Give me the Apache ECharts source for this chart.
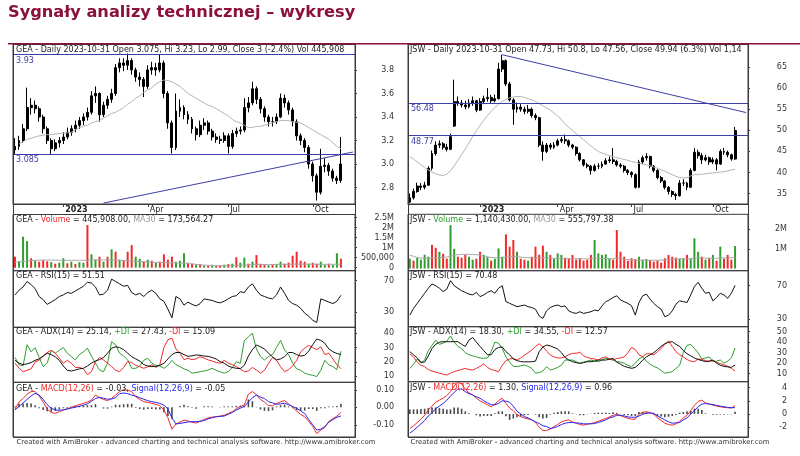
<!DOCTYPE html>
<html><head><meta charset="utf-8">
<script src="https://cdn.jsdelivr.net/npm/echarts@6/dist/echarts.min.js"></script>
<style>html,body{margin:0;padding:0;background:#fff}#c{width:800px;height:456px}</style>
</head><body><div id="c"></div>
<script>
// ---------- GEA (left) : one point per ~3 sessions, [open, close, low, high] ----------
const geaCandles = [
[3.12,3.15,3.08,3.22],[3.15,3.20,3.12,3.24],[3.20,3.30,3.18,3.34],[3.30,3.48,3.28,3.65],[3.48,3.50,3.42,3.56],
[3.50,3.47,3.43,3.54],[3.47,3.40,3.36,3.49],[3.40,3.30,3.26,3.42],[3.30,3.20,3.17,3.32],[3.20,3.13,3.08,3.22],
[3.13,3.18,3.11,3.21],[3.18,3.20,3.14,3.23],[3.20,3.23,3.17,3.27],[3.23,3.27,3.21,3.31],[3.27,3.30,3.24,3.33],
[3.30,3.33,3.27,3.37],[3.33,3.37,3.30,3.40],[3.37,3.40,3.33,3.43],[3.40,3.44,3.37,3.48],[3.44,3.58,3.42,3.62],
[3.58,3.60,3.52,3.66],[3.60,3.42,3.36,3.61],[3.42,3.50,3.40,3.53],[3.50,3.55,3.47,3.58],[3.55,3.60,3.52,3.64],
[3.60,3.82,3.58,3.85],[3.82,3.86,3.78,3.90],[3.86,3.84,3.79,3.90],[3.84,3.88,3.80,3.94],[3.88,3.80,3.76,3.90],
[3.80,3.74,3.70,3.82],[3.74,3.72,3.66,3.78],[3.72,3.66,3.57,3.74],[3.66,3.80,3.64,3.84],[3.80,3.82,3.76,3.87],
[3.82,3.80,3.75,3.86],[3.80,3.86,3.78,3.93],[3.86,3.60,3.56,3.88],[3.60,3.35,3.30,3.62],[3.35,3.14,3.09,3.37],
[3.14,3.45,3.12,3.60],[3.45,3.48,3.40,3.55],[3.48,3.42,3.38,3.50],[3.42,3.38,3.34,3.45],[3.38,3.30,3.26,3.40],
[3.30,3.25,3.20,3.32],[3.25,3.33,3.23,3.37],[3.33,3.35,3.29,3.39],[3.35,3.28,3.25,3.37],[3.28,3.23,3.20,3.30],
[3.23,3.21,3.18,3.26],[3.21,3.20,3.17,3.24],[3.20,3.24,3.18,3.27],[3.24,3.15,3.09,3.26],[3.15,3.26,3.13,3.29],
[3.26,3.28,3.23,3.31],[3.28,3.29,3.25,3.32],[3.29,3.48,3.27,3.56],[3.48,3.52,3.44,3.57],[3.52,3.64,3.50,3.70],
[3.64,3.55,3.51,3.66],[3.55,3.47,3.43,3.57],[3.47,3.40,3.36,3.49],[3.40,3.36,3.32,3.42],[3.36,3.36,3.32,3.40],
[3.36,3.40,3.34,3.43],[3.40,3.56,3.39,3.60],[3.56,3.52,3.48,3.59],[3.52,3.46,3.42,3.54],[3.46,3.36,3.32,3.48],
[3.36,3.24,3.20,3.38],[3.24,3.20,3.16,3.26],[3.20,3.14,3.10,3.22],[3.14,3.00,2.96,3.16],[3.00,2.90,2.85,3.02],
[2.90,2.76,2.69,2.92],[2.76,2.98,2.74,3.13],[2.98,2.99,2.93,3.05],[2.99,2.94,2.90,3.01],[2.94,2.88,2.85,2.96],
[2.88,2.86,2.83,2.90],[2.86,3.00,2.84,3.23]];
const geaMA = [null,3.17,3.19,3.21,3.22,3.23,3.24,3.245,3.25,3.25,3.255,3.26,3.26,3.265,3.27,3.29,3.31,3.32,3.33,3.35,
3.36,3.37,3.39,3.41,3.43,3.44,3.46,3.48,3.51,3.53,3.56,3.58,3.61,3.63,3.65,3.68,3.70,3.715,3.71,3.70,
3.68,3.66,3.63,3.60,3.58,3.56,3.54,3.52,3.50,3.49,3.47,3.45,3.43,3.41,3.38,3.36,3.35,3.33,3.31,3.31,
3.32,3.32,3.33,3.34,3.35,3.36,3.37,3.37,3.37,3.36,3.355,3.35,3.33,3.31,3.29,3.27,3.25,3.23,3.21,3.18,3.15,3.13];
const geaLevels = [3.93, 3.085];
const geaTrend = [[22, 2.668], [84, 3.102]];
const geaVol = [0.55,0.3,1.55,1.33,0.47,0.35,0.3,0.38,0.32,0.28,0.2,0.25,0.47,0.22,0.3,0.18,0.28,0.25,2.13,0.67,
0.4,0.55,0.3,0.55,0.92,0.8,0.4,0.35,0.8,1.13,0.55,0.45,0.3,0.4,0.35,0.25,0.3,0.67,0.4,0.55,
0.3,0.35,0.72,0.25,0.2,0.15,0.18,0.12,0.1,0.15,0.1,0.12,0.15,0.18,0.2,0.52,0.25,0.5,0.2,0.3,
0.63,0.2,0.15,0.12,0.15,0.18,0.3,0.2,0.25,0.6,0.8,0.35,0.3,0.2,0.25,0.2,0.3,0.15,0.2,0.15,0.72,0.45];
const geaVolUp = [0,1,1,1,0,1,0,0,0,1,0,1,1,0,1,0,1,1,0,1,1,0,1,0,1,0,1,0,0,0,1,1,0,1,0,1,0,0,0,0,
1,1,1,0,0,1,0,1,0,1,0,0,1,0,1,0,1,1,0,1,0,0,0,1,0,1,1,0,0,0,0,0,0,1,0,0,1,1,0,1,1,0];
const geaVolMA = [0.28,0.3,0.32,0.34,0.36,0.37,0.38,0.38,0.38,0.38,0.38,0.37,0.37,0.37,0.37,0.37,0.37,0.37,0.38,0.39,
0.39,0.39,0.39,0.39,0.39,0.38,0.37,0.36,0.35,0.34,0.32,0.31,0.3,0.29,0.28,0.27,0.26,0.26,0.25,0.24,
0.24,0.23,0.22,0.21,0.19,0.17,0.15,0.13,0.12,0.11,0.1,0.1,0.1,0.1,0.1,0.11,0.12,0.13,0.14,0.15,
0.16,0.16,0.16,0.16,0.16,0.17,0.17,0.17,0.17,0.18,0.18,0.18,0.18,0.18,0.18,0.17,0.17,0.17,0.17,0.17,0.17,0.17];
const geaRSI = [52,58,62,69,65,60,50,46,40,43,46,50,52,55,54,57,60,63,68,67,62,52,53,58,72,69,66,63,64,55,
52,54,50,55,58,54,47,44,34,23,50,47,39,43,40,38,41,47,46,45,43,42,44,47,50,51,56,55,62,66,
58,52,50,48,47,52,62,54,45,41,39,35,29,25,20,17,47,45,43,41,44,51.5];
const geaADX = [21,19,18,18.5,19.5,21,22,24,26,25,23.5,21,17,14,13.5,14.2,15,15.4,17,19,20.5,21.5,23,26,29.5,30.5,30,28.5,26,23.6,
22,20.5,18,17,16.6,16.8,17.5,18.9,22,25,26.5,26.5,25,23.8,24.2,24.8,24.5,24,23.8,23,22,20,19,17,16,15.4,15.2,17.5,24,28.5,
31.8,30.5,29,26,23.5,21.3,22,23.6,26.5,26.5,25,24,24.5,27.5,32,36,35,33,29,27,25.8,25.1];
const geaPDI = [23,18,17,32,27,30,23,16.6,19,28,26,28,30,26,23.6,21.3,25,27,29.5,24,19,14.2,13,19,34,32,26,24,21.3,15.4,
15.4,17,21,22.4,19,17.5,17,15.4,17.5,21,18,16.6,15,14,12,12.5,13,13.5,14.2,15.4,14,13,12,13,16,20,19,35,37.5,40,
29,23.6,21.3,23.6,25,30,35,28.3,25,19,15,14,12,11,10.5,9.6,14,21,17.8,16.6,14.5,27.4];
const geaMDI = [19,15.5,13,14,15,20,21,24,26.5,28,26,22.5,19,21,19,16,16,15,11,13,20,23,21.3,19,16.6,14,13,16,20,19.5,
17.5,16.5,15.4,16.5,17.8,16,18,30,35.5,36.5,29,26,21.5,22.4,21.5,22,23.5,22.5,21.3,20.5,19.5,19,21,19,18,16.6,15,13,13.5,16,
14.2,12,14,18.9,23,21,16.6,13,14.5,17,21,27,29.5,31.5,30,28.5,30.5,25,26,22,18,15.1];
const geaMACD = [-0.01,0.03,0.05,0.075,0.09,0.09,0.065,0.03,-0.01,-0.03,-0.034,-0.025,-0.015,-0.008,0,0.008,0.016,0.022,0.03,0.042,
0.07,0.055,0.045,0.038,0.05,0.07,0.09,0.1,0.098,0.09,0.06,0.045,0.032,0.028,0.023,0.016,0.01,-0.015,-0.06,-0.125,
-0.095,-0.085,-0.073,-0.078,-0.085,-0.09,-0.08,-0.07,-0.06,-0.056,-0.053,-0.05,-0.045,-0.035,-0.025,-0.008,0.005,0.013,0.075,0.09,
0.072,0.045,0.03,0.01,0.008,0.022,0.032,0.038,0.02,0,-0.022,-0.04,-0.055,-0.08,-0.11,-0.15,-0.13,-0.115,-0.08,-0.065,-0.05,-0.03];
const geaSignal = [-0.015,0.005,0.025,0.045,0.065,0.08,0.07,0.045,0.015,-0.005,-0.015,-0.017,-0.015,-0.01,-0.004,0,0.007,0.012,0.02,0.035,
0.05,0.057,0.052,0.046,0.048,0.055,0.078,0.082,0.078,0.07,0.063,0.055,0.046,0.038,0.032,0.028,0.022,0.013,-0.01,-0.06,
-0.095,-0.092,-0.088,-0.084,-0.082,-0.082,-0.08,-0.076,-0.066,-0.06,-0.054,-0.052,-0.05,-0.04,-0.03,-0.016,-0.005,0.005,0.03,0.055,
0.07,0.058,0.05,0.032,0.025,0.017,0.02,0.023,0.015,0.005,-0.006,-0.02,-0.036,-0.07,-0.1,-0.13,-0.125,-0.11,-0.085,-0.07,-0.057,-0.05];
const geaHist = [0.005,0.02,0.022,0.025,0.022,0.012,-0.005,-0.015,-0.022,-0.025,-0.02,-0.012,-0.005,-0.004,0.004,0.008,0.008,0.01,0.012,0.012,
0.018,0,-0.007,-0.008,0.004,0.015,0.014,0.018,0.02,0.02,-0.004,-0.01,-0.014,-0.01,-0.009,-0.012,-0.012,-0.028,-0.05,-0.065,
0,0.007,0.015,0.006,-0.003,-0.008,0,0.006,0.006,0.004,0.001,0.002,0.005,0.005,0.005,0.008,0.01,0.008,0.045,0.035,
0.002,-0.013,-0.02,-0.022,-0.017,0.005,0.012,0.015,0.005,-0.005,-0.016,-0.02,-0.019,-0.01,-0.01,-0.02,-0.005,-0.005,0.005,0.005,0.007,0.02];
const geaMonthIdx = [12, 33, 53, 74];
const geaMonthTxt = ['2023', 'Apr', 'Jul', 'Oct'];

// ---------- JSW (right) ----------
const jswCandles = [
[33.0,34.0,32.8,35.0],[34.0,35.5,33.6,36.2],[35.5,36.8,35.2,37.6],[36.8,36.5,35.8,37.5],[36.5,37.0,36.0,37.8],
[37.0,41.0,36.8,41.5],[41.0,44.5,40.5,45.2],[44.5,46.5,44.0,47.4],[46.5,46.8,45.8,47.6],[46.8,46.0,45.4,47.2],
[46.0,45.5,45.0,46.8],[45.5,48.5,45.3,49.2],[51.0,56.8,50.8,62.0],[56.8,56.5,55.8,58.0],[56.5,56.0,55.4,57.2],
[56.0,55.6,55.0,57.0],[55.6,56.5,55.2,57.4],[56.5,57.0,55.8,58.0],[57.0,54.8,54.3,57.2],[54.8,56.8,54.6,57.6],
[56.8,57.5,56.2,58.2],[57.5,57.8,56.8,60.0],[57.8,57.0,56.5,58.4],[57.0,57.5,56.6,58.5],[57.5,64.5,57.3,66.0],
[64.5,66.5,63.8,67.9],[66.5,61.0,60.5,66.8],[61.0,57.2,56.8,61.5],[57.2,55.0,51.3,57.6],[55.0,55.5,54.2,56.6],
[55.5,55.0,54.4,56.2],[55.0,54.5,53.8,55.6],[54.5,55.0,54.0,56.0],[55.0,53.5,53.0,55.4],[53.5,53.0,52.4,54.0],
[53.0,46.5,46.0,53.2],[46.5,45.0,42.8,47.4],[45.0,46.5,44.6,47.0],[46.5,46.0,45.4,47.0],[46.0,46.5,45.6,47.2],
[46.5,47.5,46.2,48.0],[47.5,47.8,47.0,48.4],[47.8,47.5,46.8,49.0],[47.5,46.5,46.0,47.8],[46.5,46.0,45.5,46.8],
[46.0,44.5,44.0,46.2],[44.5,43.0,42.6,44.8],[43.0,41.8,41.4,43.2],[41.8,41.5,41.0,42.3],[41.5,40.5,39.5,41.8],
[40.5,41.5,40.2,42.0],[41.5,41.5,40.8,42.2],[41.5,42.0,41.0,42.6],[42.0,42.8,41.8,43.4],[42.8,43.0,42.3,43.8],
[43.0,42.6,42.0,45.8],[42.6,41.8,41.4,43.0],[41.8,41.5,41.0,42.2],[41.5,40.5,40.0,41.8],[40.5,40.0,39.4,40.8],
[40.0,39.5,38.8,40.3],[39.5,36.5,36.2,39.8],[36.5,42.5,36.3,43.0],[42.5,43.5,42.0,44.0],[43.5,43.8,42.8,44.6],
[43.8,41.5,41.0,44.0],[41.5,40.5,40.0,41.8],[40.5,38.8,38.4,40.8],[38.8,38.0,37.5,39.2],[38.0,36.5,36.0,38.2],
[36.5,35.5,34.8,36.8],[35.5,34.8,34.2,35.8],[34.8,34.5,33.5,35.2],[34.5,37.5,34.3,38.2],[37.5,37.5,36.8,38.4],
[37.5,36.5,35.8,37.8],[36.5,40.5,36.4,41.0],[40.5,44.8,40.3,45.8],[44.8,44.0,43.3,45.4],[44.0,43.0,42.0,44.6],
[43.0,43.5,42.6,44.2],[43.5,42.5,41.8,43.8],[42.5,43.0,42.0,43.6],[43.0,42.0,40.5,43.4],[42.0,45.0,41.8,45.5],
[45.0,44.8,44.2,45.8],[44.8,44.2,43.6,45.2],[44.2,43.2,42.8,44.5],[43.2,49.94,43.0,50.8]];
const jswMA = [43.8,43.2,42.5,41.8,41.2,40.6,40.1,39.7,39.4,39.3,39.6,40.4,41.6,42.9,44.2,45.6,47.0,48.5,49.9,51.2,
52.4,53.5,54.5,55.4,56.2,56.8,57.3,57.7,57.9,58.0,58.0,57.8,57.5,57.2,56.8,56.3,55.8,55.3,54.8,54.1,
53.4,52.6,51.5,50.7,50.0,49.2,48.5,47.8,47.0,46.3,45.6,45.0,44.6,44.3,44.0,43.8,43.5,43.3,43.1,42.9,
42.6,42.4,42.2,42.0,41.8,41.6,41.3,41.0,40.7,40.3,39.9,39.5,39.1,38.8,38.7,38.8,39.2,39.5,39.5,39.6,
39.7,39.8,39.9,40.0,40.1,40.2,40.4,40.6,40.8];
const jswLevels = [56.48, 48.77];
const jswTrend = [[25, 67.9], [91, 54.2]];
const jswVol = [0.5,0.4,0.55,0.45,0.7,0.6,1.2,1.05,0.85,0.75,0.5,2.2,1.0,0.6,0.55,0.7,0.6,0.45,0.5,0.85,
0.69,0.6,0.4,0.5,1.02,0.6,1.73,1.11,1.45,0.85,0.5,0.45,0.4,0.6,1.11,0.7,1.16,0.85,0.69,0.5,
0.77,0.69,0.55,0.5,0.69,0.45,0.52,0.4,0.45,0.69,1.45,0.77,0.69,0.72,0.5,0.45,1.95,0.85,0.6,0.4,
0.52,0.48,0.6,0.45,0.48,0.43,0.35,0.4,0.3,0.52,0.69,0.6,0.55,0.5,0.52,0.69,0.5,1.53,0.85,0.6,
0.45,0.52,0.69,0.4,1.11,0.5,0.69,0.45,1.14];
const jswVolUp = [1,0,1,1,1,1,0,0,1,0,0,1,1,0,0,0,1,1,0,0,1,1,0,1,1,1,0,0,0,1,0,0,1,0,0,0,0,1,0,1,
1,1,0,0,0,0,0,0,0,0,1,1,1,1,1,0,0,0,0,0,0,0,1,1,1,0,0,0,0,0,0,0,0,1,1,0,1,1,1,0,1,0,1,0,1,0,0,0,1];
const jswVolMA = [0.68,0.62,0.56,0.53,0.52,0.52,0.53,0.55,0.56,0.57,0.58,0.63,0.67,0.7,0.72,0.72,0.72,0.71,0.7,0.68,
0.62,0.58,0.56,0.55,0.55,0.56,0.58,0.6,0.62,0.6,0.58,0.56,0.55,0.55,0.55,0.54,0.55,0.55,0.54,0.52,
0.5,0.5,0.5,0.5,0.5,0.5,0.5,0.49,0.49,0.5,0.52,0.53,0.52,0.51,0.5,0.5,0.53,0.52,0.48,0.45,
0.43,0.42,0.42,0.42,0.42,0.42,0.42,0.42,0.42,0.43,0.45,0.47,0.48,0.49,0.5,0.5,0.5,0.53,0.54,0.54,
0.53,0.52,0.52,0.52,0.53,0.54,0.54,0.55,0.556];
const jswRSI = [35,43,49,55,61,67,72,70,67,63,66,76,70,67,64,62,60,59,62,57,59,62,64,61,67,70,51,49,47,45,
46,47,45,44,42,34,31,40,44,46,47,45,46,40,38,37,39,37,38,39,41,40,46,51,53,56,58,53,51,49,
46,35,50,58,60,54,49,45,42,33,35,40,48,52,51,50,59,69,74,67,61,62,52,56,61,59,55,61,70.5];
const jswADX = [31,28,25,21,21,27,34,38,40,40.5,40.5,40.5,40.5,40.5,38,36,42,44.5,40,36,32,28,28,33,35,35.5,31,28,24,22.5,
21.5,21.3,21.3,21.4,22,31,35.5,37.3,36.5,35,33.5,30,25.5,23,21.5,20.5,19.8,20.5,21.4,21.4,22,23,23,23,23.8,24.5,21,19,17,16,
15.1,16,19,23,26,28,30,33,36,38.5,40,40.5,38,36,32,29,27,25,23.5,22.5,21.5,22,23,20,18,17,16.5,16,18.3];
const jswPDI = [15,19,24,20,23,32,37,42,38,39,41,46,40,36,34,30,28,27,26,25,24.6,25,31,40,39,34,26,21,17,16.7,
17.5,18.3,17,15,10.5,11,12.5,16.7,13.5,14.5,16,18,23,23,23,21.5,20,21,22,23,22,21.4,23,24.6,24,23,21.5,21,20,18,
16.7,20,24,26,22,19,17,15.5,13,10.5,11,12,15,18,30,37,38,34,30,24,25,26,21.5,22,23,20,22,25,34.5];
const jswMDI = [29,26,21,18,16.7,14,12.5,11.5,10.5,9.5,8.7,10.5,12,13,14,15,14,13.5,15,17,19.5,16,14,13,12,18,22.5,24,24.6,23,
25,27.5,30,32.5,36,38.5,35.5,31.5,28,26,25,25,26,28,29.4,29.4,30.5,27,25.5,24.6,24,23,25,26,24,23,24.5,25,26,30,
35,33,28,26.2,29,29,28,31,34,38,41,36,31,28,26,23.5,22,21.4,24,23.5,22.5,21.5,22.5,21,19.5,18.5,17,15,12.6];
const jswMACD = [-2.2,-1.8,-1.3,-0.8,-0.2,0.6,1.2,1.8,2.1,2.4,2.8,3.4,4.3,4.8,4.6,3.8,3.2,2.9,2.4,2.0,
1.7,1.4,1.1,1.5,2.0,2.4,1.6,0.9,0.5,-0.1,-0.4,-0.6,-0.75,-0.9,-1.3,-2.0,-2.5,-2.5,-2.3,-1.9,
-1.6,-1.2,-1.0,-0.9,-1.2,-1.4,-1.6,-1.7,-1.55,-1.45,-1.3,-1.1,-0.9,-0.7,-0.45,-0.2,-0.05,-0.25,-0.45,-0.65,
-0.8,-0.8,0,0.25,0.35,0.2,0,-0.6,-1.0,-1.4,-1.6,-1.7,-1.5,-1.1,-0.6,-0.2,0.5,1.3,1.9,2.1,
1.7,1.5,1.35,1.2,1.1,1.0,0.95,0.9,1.3];
const jswSignal = [-2.9,-2.5,-2.0,-1.5,-1.0,-0.3,0.2,0.8,1.2,1.6,2.1,2.7,3.3,3.8,3.8,3.4,3.1,2.9,2.6,2.4,
2.0,1.7,1.4,1.4,1.6,2.0,1.95,1.8,1.2,0.4,0,-0.4,-0.6,-0.9,-1.2,-1.45,-1.8,-1.9,-2.2,-2.1,
-1.9,-1.6,-1.4,-1.3,-1.3,-1.35,-1.4,-1.5,-1.5,-1.5,-1.45,-1.3,-1.1,-0.9,-0.6,-0.45,-0.2,-0.2,-0.3,-0.45,
-0.5,-0.5,-0.3,-0.05,0.1,0.15,0.1,-0.3,-0.6,-0.9,-1.2,-1.4,-1.35,-1.3,-0.9,-0.6,0,0.5,1.1,1.5,
1.6,1.5,1.45,1.3,1.2,1.1,1.0,0.96,0.96];
const jswHist = [0.7,0.7,0.7,0.75,0.8,0.9,1.0,1.0,0.9,0.8,0.7,0.7,1.0,1.0,0.8,0.4,0.1,0,-0.2,-0.4,
-0.3,-0.3,-0.3,0.1,0.4,0.4,-0.35,-0.9,-0.7,-0.5,-0.4,-0.2,-0.15,0,-0.1,-0.5,-0.7,-0.6,-0.1,0.2,
0.3,0.4,0.4,0.4,0.1,-0.05,-0.2,-0.2,-0.05,0.05,0.15,0.2,0.2,0.2,0.15,0.25,0.15,-0.05,-0.15,-0.2,
-0.3,-0.3,0.3,0.3,0.25,0.05,-0.1,-0.3,-0.4,-0.5,-0.4,-0.3,-0.15,0.2,0.3,0.4,0.5,0.8,0.8,0.6,
0.1,0,-0.1,-0.1,-0.1,-0.1,-0.05,-0.05,0.34];
const jswMonthIdx = [19, 40, 60, 82];
const jswMonthTxt = ['2023', 'Apr', 'Jul', 'Oct'];

// ---------- text ----------
const pageTitle = 'Sygnały analizy technicznej – wykresy';
const footerText = 'Created with AmiBroker - advanced charting and technical analysis software. http://www.amibroker.com';
const geaHeaders = [
  '{k|GEA - Daily 2023-10-31 Open 3.075, Hi 3.23, Lo 2.99, Close 3 (-2.4%) Vol 445,908}',
  '{k|GEA - }{r|Volume}{k| = 445,908.00, }{m|MA30}{k| = 173,564.27}',
  '{k|GEA - RSI(15) = 51.51}',
  '{k|GEA - ADX(14) = 25.14, }{g|+DI}{k| = 27.43, }{r|-DI}{k| = 15.09}',
  '{k|GEA - }{r|MACD(12,26)}{k| = -0.03, }{b|Signal(12,26,9)}{k| = -0.05}'];
const jswHeaders = [
  '{k|JSW - Daily 2023-10-31 Open 47.73, Hi 50.8, Lo 47.56, Close 49.94 (6.3%) Vol 1,14}',
  '{k|JSW - }{g|Volume}{k| = 1,140,430.00, }{m|MA30}{k| = 555,797.38}',
  '{k|JSW - RSI(15) = 70.48}',
  '{k|JSW - ADX(14) = 18.30, }{g|+DI}{k| = 34.55, }{r|-DI}{k| = 12.57}',
  '{k|JSW - }{r|MACD(12,26)}{k| = 1.30, }{b|Signal(12,26,9)}{k| = 0.96}'];

// ---------- styling / layout ----------
const F = 'DejaVu Sans';
const COL = {frame:'#3a3a3a', txt:'#222', lab:'#333', level:'#3d3da8', green:'#2f9e2f', red:'#f02a2a',
             grey:'#a9a9a9', blue:'#2727f0', hist:'#4a4a4a', maroon:'#8c103c'};
const volFmt = v => v === 0 ? '0' : (v < 1 ? Math.round(v * 1e6).toLocaleString('en-US') : v + 'M');
const num = v => String(v);

const LEFT = {
  x: 13, w: 342, N: 85, seps: [44, 204, 214.5, 270.7, 327.3, 382.3, 437], hx: 16,
  candles: geaCandles, ma: geaMA, levels: geaLevels, trend: geaTrend, vol: geaVol, volUp: geaVolUp, volMA: geaVolMA,
  rsi: geaRSI, adx: geaADX, pdi: geaPDI, mdi: geaMDI, macd: geaMACD, signal: geaSignal, hist: geaHist,
  mIdx: geaMonthIdx, mTxt: geaMonthTxt, headers: geaHeaders, hy: [46, 215.5, 272, 328, 384.5],
  ax: [
    {min: 2.66, max: 4.021, ticks: [2.8, 3.0, 3.2, 3.4, 3.6, 3.8], fmt: v => v.toFixed(1)},
    {min: -0.15, max: 2.66, ticks: [0, 0.5, 1, 1.5, 2, 2.5], fmt: volFmt},
    {min: 11.0, max: 82.66, ticks: [30, 70], fmt: num},
    {min: 5.57, max: 44.2, ticks: [10, 20, 30, 40], fmt: num},
    {min: -0.1697, max: 0.1429, ticks: [-0.1, 0, 0.1], fmt: v => v.toFixed(2)}]
};
const RIGHT = {
  x: 408, w: 340, N: 92, seps: [44, 204, 214.3, 270.7, 326.7, 381.7, 437], hx: 410,
  candles: jswCandles, ma: jswMA, levels: jswLevels, trend: jswTrend, vol: jswVol, volUp: jswVolUp, volMA: jswVolMA,
  rsi: jswRSI, adx: jswADX, pdi: jswPDI, mdi: jswMDI, macd: jswMACD, signal: jswSignal, hist: jswHist,
  mIdx: jswMonthIdx, mTxt: jswMonthTxt, headers: jswHeaders, hy: [46, 215.5, 272, 327.6, 383.5],
  ax: [
    {min: 32.54, max: 70.45, ticks: [35, 40, 45, 50, 55, 60, 65], fmt: num},
    {min: -0.11, max: 2.75, ticks: [1, 2], fmt: volFmt},
    {min: 21.19, max: 87.86, ticks: [30, 70], fmt: num},
    {min: 2.38, max: 54.76, ticks: [10, 20, 30, 40, 50], fmt: num},
    {min: -3.5, max: 4.91, ticks: [-2, 0, 2, 4], fmt: num}]
};

const opt = {backgroundColor: '#fff', animation: false, grid: [], xAxis: [], yAxis: [], series: [], title: [], graphic: []};
const rich = {};
[['k', COL.txt], ['r', COL.red], ['g', COL.green], ['m', '#9a9a9a'], ['b', COL.blue]].forEach(([n, c]) => {
  rich[n] = {color: c, fontSize: 8, fontFamily: F, fontWeight: 'normal'};
});

function panel(p) {
  const g0 = opt.grid.length;
  const s = p.seps;
  const panes = [[s[0], s[1]], [s[2], s[3]], [s[3], s[4]], [s[4], s[5]], [s[5], s[6]]];
  const cats = Array.from({length: p.N}, (_, i) => String(i));
  const mAt = {};
  p.mIdx.forEach((ix, k) => { mAt[ix] = p.mTxt[k]; });
  const isM = i => mAt[i] !== undefined;
  panes.forEach((pp, k) => {
    opt.grid.push({left: p.x, top: pp[0], width: p.w, height: pp[1] - pp[0], show: true,
      borderColor: COL.frame, borderWidth: 1, backgroundColor: 'transparent'});
    const pr = k === 0;
    opt.xAxis.push({type: 'category', gridIndex: g0 + k, data: cats, boundaryGap: true, show: pr,
      axisLine: {show: pr, lineStyle: {color: COL.frame}},
      axisTick: {show: pr, alignWithLabel: true, length: 3, interval: isM, lineStyle: {color: COL.frame}},
      axisLabel: {show: pr, interval: isM, margin: 2, align: 'left', padding: [0, 0, 0, 2],
        formatter: (v, i) => { const t = mAt[i]; if (!t) return ''; return /^\d{4}$/.test(t) ? '{y|' + t + '}' : t; },
        fontSize: 8, fontFamily: F, color: COL.txt,
        rich: {y: {fontSize: 8, fontFamily: F, fontWeight: 'bold', color: COL.txt}}},
      splitLine: {show: false}});
    const a = p.ax[k];
    opt.yAxis.push({type: 'value', gridIndex: g0 + k, position: 'right', min: a.min, max: a.max,
      axisLine: {show: false}, splitLine: {show: false},
      axisTick: {show: true, inside: false, length: 2, customValues: a.ticks, lineStyle: {color: COL.frame}},
      axisLabel: {customValues: a.ticks, formatter: a.fmt, margin: 39, align: 'right',
        fontSize: 8, fontFamily: F, color: COL.lab}});
  });
  const X = k => ({xAxisIndex: g0 + k, yAxisIndex: g0 + k});
  const line = (k, data, color, w) => Object.assign({type: 'line', data, showSymbol: false, symbol: 'none',
    silent: true, animation: false, connectNulls: false, lineStyle: {color, width: w || 1}, itemStyle: {color}}, X(k));
  // price pane
  opt.series.push(line(0, p.ma, '#b5b5b5'));
  opt.series.push(Object.assign({type: 'candlestick', data: p.candles, barWidth: 2.4, silent: true, animation: false,
    itemStyle: {color: '#000', color0: '#000', borderColor: '#000', borderColor0: '#000', borderWidth: 1},
    markLine: {symbol: ['none', 'none'], silent: true, animation: false, precision: 3,
      lineStyle: {color: COL.level, width: 1, type: 'solid'},
      label: {position: 'insideStartBottom', formatter: q => String(p.levels[q.dataIndex]), color: COL.level,
        fontSize: 8, fontFamily: F, distance: [3, 2]},
      data: p.levels.map(v => ({yAxis: v}))}}, X(0)));
  opt.series.push(line(0, p.trend, COL.level));
  // volume pane
  opt.series.push(Object.assign({type: 'bar', barWidth: 2, silent: true, animation: false,
    data: p.vol.map((v, i) => ({value: v, itemStyle: {color: p.volUp[i] ? COL.green : COL.red}}))}, X(1)));
  opt.series.push(line(1, p.volMA, COL.grey));
  // RSI
  opt.series.push(line(2, p.rsi, '#111'));
  // ADX
  opt.series.push(line(3, p.pdi, COL.green));
  opt.series.push(line(3, p.mdi, COL.red));
  opt.series.push(line(3, p.adx, '#111'));
  // MACD
  opt.series.push(Object.assign({type: 'bar', barWidth: 1.6, silent: true, animation: false,
    data: p.hist, itemStyle: {color: COL.hist}}, X(4)));
  opt.series.push(line(4, p.macd, COL.red));
  opt.series.push(line(4, p.signal, COL.blue));
  // headers
  p.headers.forEach((t, k) => {
    opt.title.push({left: p.hx, top: p.hy[k], padding: 0, text: t,
      textStyle: {fontSize: 8, fontFamily: F, fontWeight: 'normal', color: COL.txt, rich}});
  });
  opt.title.push({left: p.hx + 0.5, top: 439, padding: 0, text: footerText,
    textStyle: {fontSize: 6.9, fontFamily: F, fontWeight: 'normal', color: '#333'}});
  opt.graphic.push({type: 'rect', silent: true, z: 50,
    shape: {x: p.x + 0.5, y: s[0] + 0.5, width: p.w, height: s[6] - s[0]},
    style: {fill: 'transparent', stroke: COL.frame, lineWidth: 1}});
}

panel(LEFT);
panel(RIGHT);

opt.title.push({left: 8, top: 5, padding: 0, text: pageTitle,
  textStyle: {fontSize: 16.2, fontWeight: 'bold', fontFamily: F, color: COL.maroon}});
opt.graphic.push({type: 'line', silent: true, z: 100,
  shape: {x1: 8, y1: 43.75, x2: 800, y2: 43.75}, style: {stroke: COL.maroon, lineWidth: 1.5}});

const chart = echarts.init(document.getElementById('c'), null, {renderer: 'canvas'});
chart.setOption(opt);
</script></body></html>
